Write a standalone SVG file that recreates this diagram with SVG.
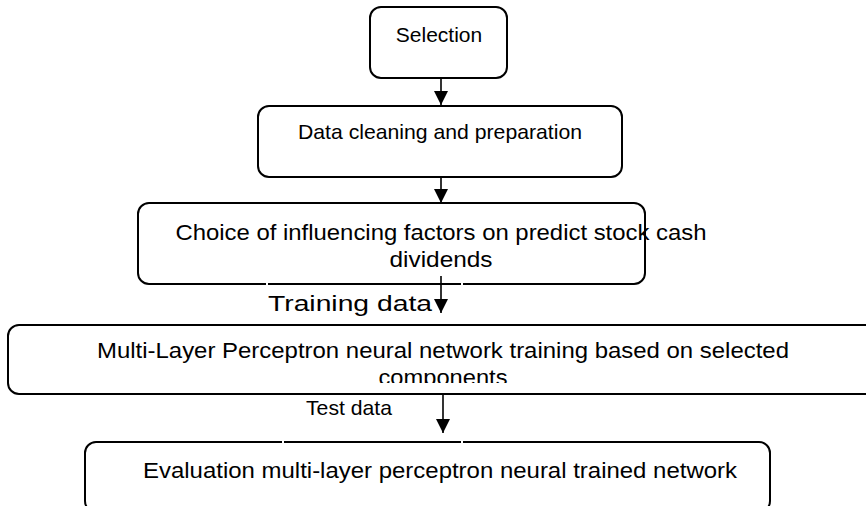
<svg xmlns="http://www.w3.org/2000/svg" width="866" height="506" viewBox="0 0 866 506">
<style>
.box{fill:#fff;stroke:#000;stroke-width:2}
.t{font-family:"Liberation Sans",Arial,sans-serif;fill:#000;text-anchor:middle}
.n{font-size:21px}
.w{font-size:22px}
.edge{stroke:#000;stroke-width:1.6;fill:none}
.gap{fill:#fff}
</style>
<defs>
<marker id="ah" markerUnits="userSpaceOnUse" markerWidth="14" markerHeight="14" viewBox="0 0 14 14" refX="14" refY="7" orient="auto">
<path d="M0,0 L14,7 L0,14 Z" fill="#000"/>
</marker>
<clipPath id="cut"><rect x="0" y="0" width="866" height="383"/></clipPath>
</defs>
<rect width="866" height="506" fill="#fff"/>
<g id="n1">
<rect class="box" x="370" y="7" width="137" height="71" rx="11"/>
<text class="t n" x="439" y="42">Selection</text>
</g>
<g id="n2">
<rect class="box" x="258" y="106" width="364" height="71" rx="11"/>
<text class="t n" x="440" y="139" textLength="284" lengthAdjust="spacingAndGlyphs">Data cleaning and preparation</text>
</g>
<g id="n3">
<rect class="box" x="138" y="203" width="507" height="81" rx="11"/>
<text class="t w" x="441" y="240" textLength="531" lengthAdjust="spacingAndGlyphs">Choice of influencing factors on predict stock cash</text>
<text class="t w" x="441" y="267" textLength="103" lengthAdjust="spacingAndGlyphs">dividends</text>
<rect class="gap" x="266" y="282" width="2" height="4"/>
<rect class="gap" x="461" y="282" width="2" height="4"/>
</g>
<g id="n4">
<rect class="box" x="8" y="325" width="900" height="69" rx="11"/>
<text class="t w" x="443" y="358" textLength="692" lengthAdjust="spacingAndGlyphs">Multi-Layer Perceptron neural network training based on selected</text>
<text class="t w" x="443" y="385" textLength="129" lengthAdjust="spacingAndGlyphs" clip-path="url(#cut)">components</text>
</g>
<g id="n5">
<rect class="box" x="85" y="442" width="685" height="70" rx="11"/>
<text class="t w" x="440" y="478" textLength="594" lengthAdjust="spacingAndGlyphs">Evaluation multi-layer perceptron neural trained network</text>
<rect class="gap" x="282" y="440" width="2" height="4"/>
<rect class="gap" x="461" y="440" width="2" height="4"/>
</g>
<g id="edges">
<line class="edge" x1="441" y1="78" x2="441" y2="105" marker-end="url(#ah)"/>
<line class="edge" x1="441" y1="177" x2="441" y2="203" marker-end="url(#ah)"/>
<line class="edge" x1="441" y1="276" x2="441" y2="313" marker-end="url(#ah)"/>
<line class="edge" x1="443" y1="394" x2="443" y2="433" marker-end="url(#ah)"/>
<text class="t w" x="350" y="311" textLength="164" lengthAdjust="spacingAndGlyphs">Training data</text>
<text class="t n" x="349" y="415" textLength="86" lengthAdjust="spacingAndGlyphs">Test data</text>
</g>
</svg>
